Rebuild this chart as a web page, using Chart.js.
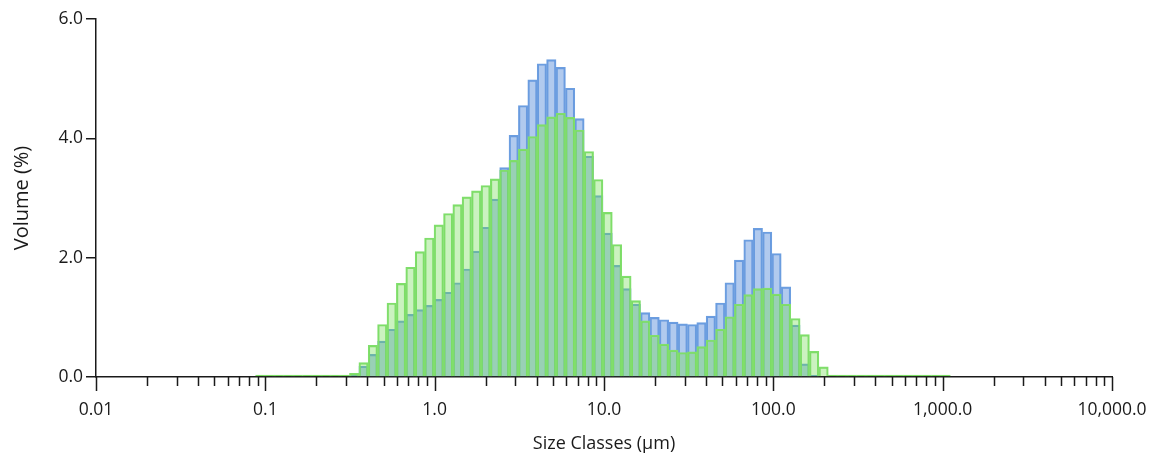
<!DOCTYPE html>
<html>
<head>
<meta charset="utf-8">
<script src="https://cdn.jsdelivr.net/npm/chart.js@4.4.1/dist/chart.umd.min.js"></script>
<style>
  html, body { margin: 0; padding: 0; background: #fff; }
  #wrap { width: 1153px; height: 460px; position: relative; }
</style>
</head>
<body>
<div id="wrap"><canvas id="sizeChart"></canvas></div>
<script>
// size class edges (µm), lower edge of each class, last value closes the final class
var classEdges = [0.0876, 0.0995, 0.113, 0.128, 0.146, 0.166, 0.188, 0.214, 0.243, 0.276,
  0.314, 0.357, 0.405, 0.460, 0.523, 0.594, 0.675, 0.767, 0.872, 0.991,
  1.13, 1.28, 1.45, 1.65, 1.88, 2.13, 2.42, 2.75, 3.12, 3.55,
  4.03, 4.58, 5.21, 5.92, 6.72, 7.64, 8.68, 9.86, 11.2, 12.7,
  14.5, 16.4, 18.7, 21.2, 24.1, 27.4, 31.1, 35.3, 40.1, 45.6,
  51.8, 58.9, 66.9, 76.0, 86.4, 98.1, 111, 127, 144, 163,
  186, 211, 240, 272, 310, 352, 400, 454, 516, 586,
  666, 756, 859, 976, 1110];

// volume % per class, blue sample
var blueVolume = [0, 0, 0, 0, 0, 0, 0, 0, 0, 0,
  0.03, 0.18, 0.38, 0.60, 0.80, 0.94, 1.05, 1.13, 1.20, 1.30,
  1.42, 1.58, 1.81, 2.11, 2.51, 2.98, 3.51, 4.05, 4.55, 4.98,
  5.25, 5.32, 5.19, 4.84, 4.33, 3.70, 3.04, 2.41, 1.87, 1.48,
  1.22, 1.08, 1.00, 0.96, 0.92, 0.89, 0.88, 0.91, 1.02, 1.24,
  1.58, 1.96, 2.30, 2.49, 2.43, 2.07, 1.51, 0.87, 0.22, 0.03,
  0, 0, 0, 0, 0, 0, 0, 0, 0, 0,
  0, 0, 0, 0];

// volume % per class, green sample
var greenVolume = [0, 0, 0, 0, 0, 0, 0, 0, 0, 0,
  0.06, 0.24, 0.53, 0.88, 1.24, 1.57, 1.84, 2.10, 2.33, 2.55,
  2.74, 2.89, 3.02, 3.12, 3.21, 3.32, 3.47, 3.63, 3.82, 4.03,
  4.23, 4.36, 4.42, 4.35, 4.14, 3.78, 3.31, 2.76, 2.22, 1.69,
  1.28, 0.94, 0.70, 0.55, 0.45, 0.41, 0.42, 0.51, 0.62, 0.80,
  1.01, 1.22, 1.38, 1.48, 1.49, 1.39, 1.22, 0.98, 0.71, 0.43,
  0.17, 0, 0, 0, 0, 0, 0, 0, 0, 0,
  0, 0, 0, 0];

var xTickValues = [0.01, 0.1, 1, 10, 100, 1000, 10000];
var xTickLabels = ['0.01', '0.1', '1.0', '10.0', '100.0', '1,000.0', '10,000.0'];
var yTickValues = [0, 2, 4, 6];

// bar centre = geometric middle of a class
function toPoints(values) {
  return values.map(function (v, i) {
    return { x: Math.sqrt(classEdges[i] * classEdges[i + 1]), y: v };
  });
}

// minor/major tick marks on the log axis
var logTicks = {
  id: 'logTicks',
  afterDraw: function (chart) {
    var sx = chart.scales.x, ctx = chart.ctx, base = chart.chartArea.bottom;
    ctx.save();
    ctx.strokeStyle = '#1a1a1a';
    ctx.lineWidth = 1.5;
    ctx.beginPath();
    for (var d = -2; d <= 4; d++) {
      for (var k = 1; k <= 9; k++) {
        var v = k * Math.pow(10, d);
        if (v > 10000) break;
        var px = Math.round(sx.getPixelForValue(v)) + 0.5;
        ctx.moveTo(px, base);
        ctx.lineTo(px, base + (k === 1 ? 14 : 9));
      }
    }
    ctx.stroke();
    ctx.restore();
  }
};

var font = '"Open Sans", "Noto Sans", sans-serif';

new Chart(document.getElementById('sizeChart'), {
  type: 'bar',
  data: {
    datasets: [{
      data: toPoints(greenVolume),
      backgroundColor: 'rgba(112,220,80,0.36)',
      borderColor: 'rgb(128,222,108)',
      borderWidth: 1.5,
      barThickness: 'flex',
      barPercentage: 1,
      categoryPercentage: 1,
      minBarLength: 2,
      order: 0
    }, {
      data: toPoints(blueVolume),
      backgroundColor: 'rgba(100,150,222,0.50)',
      borderColor: 'rgb(108,158,224)',
      borderWidth: 1.5,
      barThickness: 'flex',
      barPercentage: 1,
      categoryPercentage: 1,
      order: 1
    }]
  },
  options: {
    responsive: true,
    maintainAspectRatio: false,
    animation: false,
    layout: { padding: { top: 19, right: 41, left: 0, bottom: 0 } },
    plugins: { legend: { display: false }, tooltip: { enabled: false } },
    scales: {
      x: {
        type: 'logarithmic',
        stacked: true,
        min: 0.01,
        max: 10000,
        offset: false,
        afterBuildTicks: function (scale) {
          scale.ticks = xTickValues.map(function (v) { return { value: v }; });
        },
        afterFit: function (scale) { scale.height = 83; },
        grid: { display: false, drawTicks: true, tickLength: 21, offset: false },
        border: { display: true, color: '#1a1a1a', width: 1.5 },
        ticks: {
          autoSkip: false,
          maxRotation: 0,
          padding: 2,
          color: '#1a1a1a',
          font: { family: font, size: 17.5 },
          callback: function (v) {
            var i = xTickValues.indexOf(v);
            return i >= 0 ? xTickLabels[i] : '';
          }
        },
        title: {
          display: true,
          text: 'Size Classes (µm)',
          color: '#1a1a1a',
          font: { family: font, size: 18 },
          padding: { top: 0, bottom: 5 }
        }
      },
      y: {
        stacked: false,
        min: 0,
        max: 6,
        afterBuildTicks: function (scale) {
          scale.ticks = yTickValues.map(function (v) { return { value: v }; });
        },
        afterFit: function (scale) { scale.width = 96; },
        grid: { drawOnChartArea: false, drawTicks: true, tickLength: 10, color: '#1a1a1a', lineWidth: 1.5 },
        border: { display: true, color: '#1a1a1a', width: 1.5 },
        ticks: {
          padding: 3,
          color: '#1a1a1a',
          font: { family: font, size: 17.5 },
          callback: function (v) { return v.toFixed(1); }
        },
        title: {
          display: true,
          text: 'Volume (%)',
          color: '#1a1a1a',
          font: { family: font, size: 20 },
          padding: { top: 10, bottom: 0 }
        }
      }
    }
  },
  plugins: [logTicks]
});
</script>
</body>
</html>
